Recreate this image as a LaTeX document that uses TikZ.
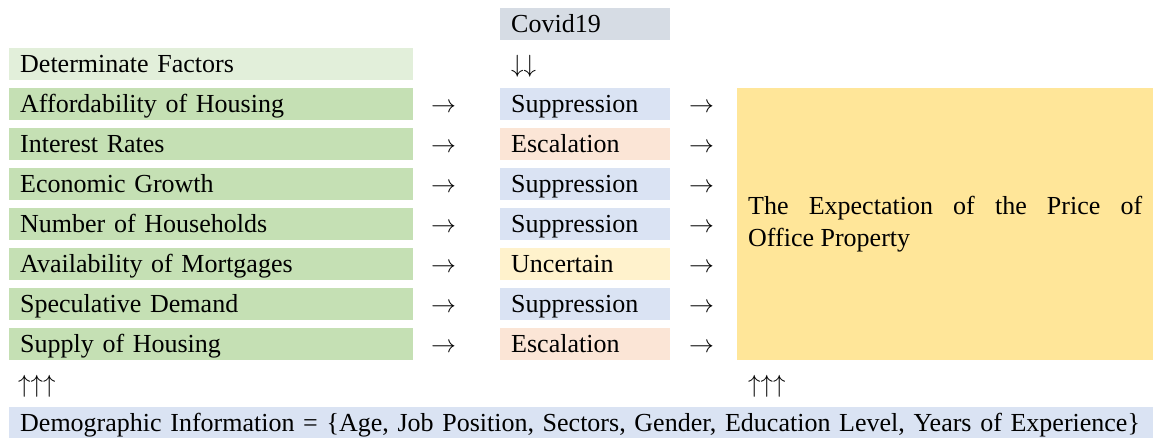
\documentclass[tikz,border=0pt]{standalone}
\usepackage{fontspec}
\setmainfont{Liberation Serif}
\usetikzlibrary{positioning}
\usepackage{xcolor}

\definecolor{headgreen}{HTML}{E2EFDA}
\definecolor{factgreen}{HTML}{C5E0B4}
\definecolor{covidgray}{HTML}{D6DCE4}
\definecolor{suppblue}{HTML}{DAE3F3}
\definecolor{escpink}{HTML}{FBE5D6}
\definecolor{uncyellow}{HTML}{FFF2CC}
\definecolor{expyellow}{HTML}{FFE699}

\begin{document}
\begin{tikzpicture}[
  x=1pt, y=-1pt,
    cell/.style={
        anchor=north west,
        inner xsep=11pt,
        inner ysep=0pt,
        minimum height=32pt,
        text height=22pt,
        text depth=6pt,
        align=left,
        font=\fontsize{26}{30}\selectfont
    },
    factor/.style={
        cell,
        fill=factgreen,
        text width=382pt
    },
    effect/.style={
        cell,
        text width=148pt
    },
    sym/.style={
        cell,
        inner xsep=0pt
    }
]

\useasboundingbox (0,0) rectangle (1153,438);

% top row
\node[effect, fill=covidgray] (covid) at (500,8) {Covid19};
\node[factor, fill=headgreen] (head) at (9,48) {Determinate Factors};
\node[sym] (down) at (511,48) {$\downarrow\downarrow$};

% factors
\node[factor] (afford) at (9,88) {Affordability of Housing};
\node[factor] (rates) at (9,128) {Interest Rates};
\node[factor] (growth) at (9,168) {Economic Growth};
\node[factor] (house) at (9,208) {Number of Households};
\node[factor] (mort) at (9,248) {Availability of Mortgages};
\node[factor] (spec) at (9,288) {Speculative Demand};
\node[factor] (supply) at (9,328) {Supply of Housing};

% effects of covid
\node[effect, fill=suppblue] (afford-e) at (500,88) {Suppression};
\node[effect, fill=escpink] (rates-e) at (500,128) {Escalation};
\node[effect, fill=suppblue] (growth-e) at (500,168) {Suppression};
\node[effect, fill=suppblue] (house-e) at (500,208) {Suppression};
\node[effect, fill=uncyellow] (mort-e) at (500,248) {Uncertain};
\node[effect, fill=suppblue] (spec-e) at (500,288) {Suppression};
\node[effect, fill=escpink] (supply-e) at (500,328) {Escalation};

% arrows
\node[sym] (a1) at (431,88) {$\rightarrow$};
\node[sym] (a2) at (431,128) {$\rightarrow$};
\node[sym] (a3) at (431,168) {$\rightarrow$};
\node[sym] (a4) at (431,208) {$\rightarrow$};
\node[sym] (a5) at (431,248) {$\rightarrow$};
\node[sym] (a6) at (431,288) {$\rightarrow$};
\node[sym] (a7) at (431,328) {$\rightarrow$};
\node[sym] (b1) at (689,88) {$\rightarrow$};
\node[sym] (b2) at (689,128) {$\rightarrow$};
\node[sym] (b3) at (689,168) {$\rightarrow$};
\node[sym] (b4) at (689,208) {$\rightarrow$};
\node[sym] (b5) at (689,248) {$\rightarrow$};
\node[sym] (b6) at (689,288) {$\rightarrow$};
\node[sym] (b7) at (689,328) {$\rightarrow$};

% expectation
\node[cell, fill=expyellow, align=justify, text width=394pt, minimum width=416pt,
  minimum height=272pt, text height=, text depth=, font=\fontsize{26}{32}\selectfont]
  (price) at (737,88)
{The Expectation of the Price of\linebreak Office Property};

% demographic
\node[sym] (up1) at (18,368) {$\uparrow\uparrow\uparrow$};
\node[sym] (up2) at (748,368) {$\uparrow\uparrow\uparrow$};
\node[cell, fill=suppblue, text width=1122pt] (demo) at (9,407)
{Demographic Information = \{Age, Job Position, Sectors, Gender, Education Level, Years of Experience\}};

\end{tikzpicture}
\end{document}
